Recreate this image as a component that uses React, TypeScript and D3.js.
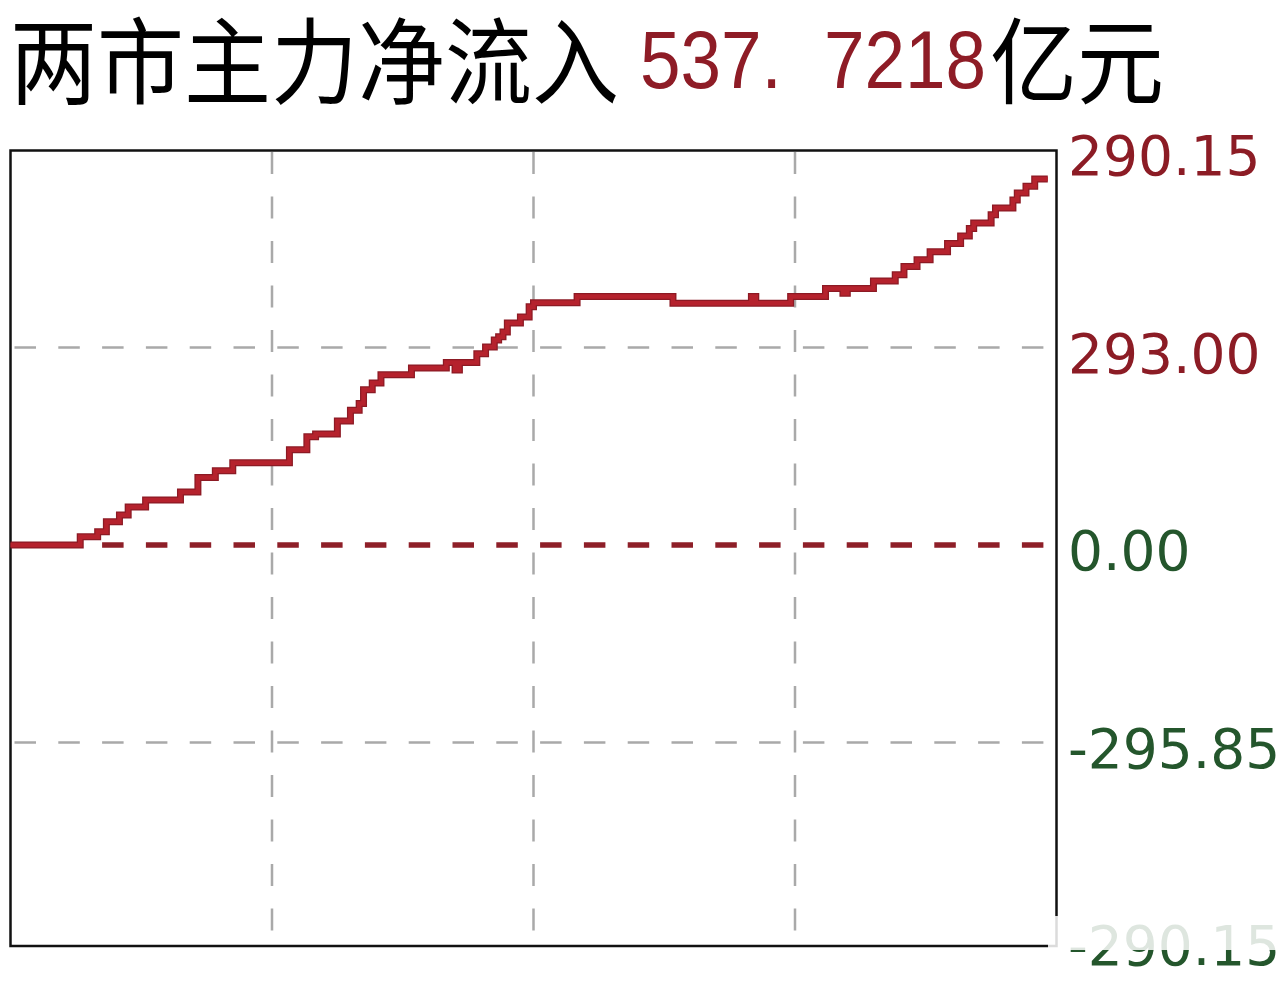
import { useEffect, useRef } from "react";
import * as d3 from "d3";

// minute index (0..240 of the trading day) where each step starts
const stepMinutes = [
  0, 16, 20, 22, 25, 27, 31, 39, 43, 47, 51, 64, 68, 70, 75, 78, 80, 81, 83, 85,
  92, 100, 102, 103, 107, 109, 111, 112, 113, 114, 117, 119, 120, 130, 152, 170,
  171, 179, 187, 191, 192, 198, 203, 205, 208, 211, 215, 218, 220, 221, 225, 226,
  230, 231, 233, 235, 238,
];

// net inflow (亿元) held from that minute on
const stepValues = [
  0, 12.2, 19.6, 34.3, 44, 56, 66, 78, 99, 109, 121, 140, 159, 163, 182, 198, 208,
  228, 238, 250, 260, 268, 257, 268, 281, 291, 301, 306, 313, 326, 335, 350, 356,
  365, 355, 365, 355, 365, 377, 370, 377, 388, 397, 409, 419, 431, 443, 454, 465,
  473, 485, 495, 507, 517, 527, 537.72, 537.72,
];

const tickValues = [580.3, 290.15, 0, -290.15, -580.3];
const tickLabels = ["290.15", "293.00", "0.00", "-295.85", "-290.15"];
const tickColors = ["#8c1c25", "#8c1c25", "#24562c", "#24562c", "#24562c"];

const titleText = "两市主力净流入";
const titleInt = "537.";
const titleFrac = "7218";
const titleUnit = "亿元";

const W = 1280;
const H = 983;

export default function App() {
  const svgRef = useRef<SVGSVGElement>(null);

  useEffect(() => {
    if (!svgRef.current) return;
    const svg = d3.select(svgRef.current);
    svg.selectAll("*").remove();

    const left = 10.5;
    const right = 1056.5;
    const top = 150.5;
    const bottom = 946;

    const x = d3.scaleLinear().domain([0, 240]).range([left, right]);
    const y = d3.scaleLinear().domain([-580.3, 580.3]).range([940, 150]);

    // title
    svg
      .append("text")
      .attr("transform", "translate(10,97) scale(1,1.08)")
      .attr("font-family", "'Noto Sans CJK SC', sans-serif")
      .attr("font-size", 87)
      .attr("fill", "#000")
      .text(titleText);

    // condensed number
    const sx = 0.9;
    const num = svg
      .append("text")
      .attr("transform", `translate(0,88) scale(${sx},1)`)
      .attr("font-family", "'Liberation Sans', Arial, sans-serif")
      .attr("font-size", 81)
      .attr("fill", "#8e1c26");
    num.append("tspan").attr("x", 640 / sx).text(titleInt);
    num.append("tspan").attr("x", 824 / sx).text(titleFrac);

    svg
      .append("text")
      .attr("transform", "translate(990,97) scale(1,1.08)")
      .attr("font-family", "'Noto Sans CJK SC', sans-serif")
      .attr("font-size", 87)
      .attr("fill", "#000")
      .text(titleUnit);

    // grid
    const grid = svg.append("g").attr("stroke", "#a9a9a9").attr("stroke-width", 2.5);
    [60, 120, 180].forEach((m) => {
      grid
        .append("line")
        .attr("x1", x(m))
        .attr("x2", x(m))
        .attr("y1", top)
        .attr("y2", bottom)
        .attr("stroke-dasharray", "22 22.5")
        .attr("stroke-dashoffset", -1.5);
    });
    [290.15, -290.15].forEach((v) => {
      grid
        .append("line")
        .attr("x1", left)
        .attr("x2", right)
        .attr("y1", y(v))
        .attr("y2", y(v))
        .attr("stroke-dasharray", "21.5 22.3")
        .attr("stroke-dashoffset", -4);
    });

    // zero line
    svg
      .append("line")
      .attr("x1", left)
      .attr("x2", right)
      .attr("y1", y(0))
      .attr("y2", y(0))
      .attr("stroke", "#8e1f28")
      .attr("stroke-width", 5.5)
      .attr("stroke-dasharray", "21.5 22.3")
      .attr("stroke-dashoffset", -4);

    // frame
    svg
      .append("rect")
      .attr("x", left)
      .attr("y", top)
      .attr("width", right - left)
      .attr("height", bottom - top)
      .attr("fill", "none")
      .attr("stroke", "#111")
      .attr("stroke-width", 2.5);

    // flow line
    const pts: [number, number][] = stepMinutes.map((m, i) => [m, stepValues[i]]);
    const line = d3
      .line<[number, number]>()
      .x((d) => x(d[0]))
      .y((d) => y(d[1]))
      .curve(d3.curveStepAfter);

    svg
      .append("path")
      .datum(pts)
      .attr("d", line)
      .attr("fill", "none")
      .attr("stroke", "#8c1a24")
      .attr("stroke-width", 7);
    svg
      .append("path")
      .datum(pts)
      .attr("d", line)
      .attr("fill", "none")
      .attr("stroke", "#b5222d")
      .attr("stroke-width", 4.5);

    // right axis labels
    svg
      .append("g")
      .selectAll("text")
      .data(tickValues)
      .join("text")
      .attr("x", 1068)
      .attr("y", (d) => y(d) + 25)
      .attr("font-family", "'DejaVu Sans', sans-serif")
      .attr("font-size", 55)
      .attr("fill", (d, i) => tickColors[i])
      .text((d, i) => tickLabels[i]);

    // washed-out band over the bottom corner
    svg
      .append("rect")
      .attr("x", 1048)
      .attr("y", 916)
      .attr("width", W - 1048)
      .attr("height", 34)
      .attr("fill", "#fff")
      .attr("opacity", 0.85);
  }, []);

  return (
    <svg
      ref={svgRef}
      width={W}
      height={H}
      style={{ position: "absolute", left: 0, top: 0, background: "#fff" }}
    />
  );
}
